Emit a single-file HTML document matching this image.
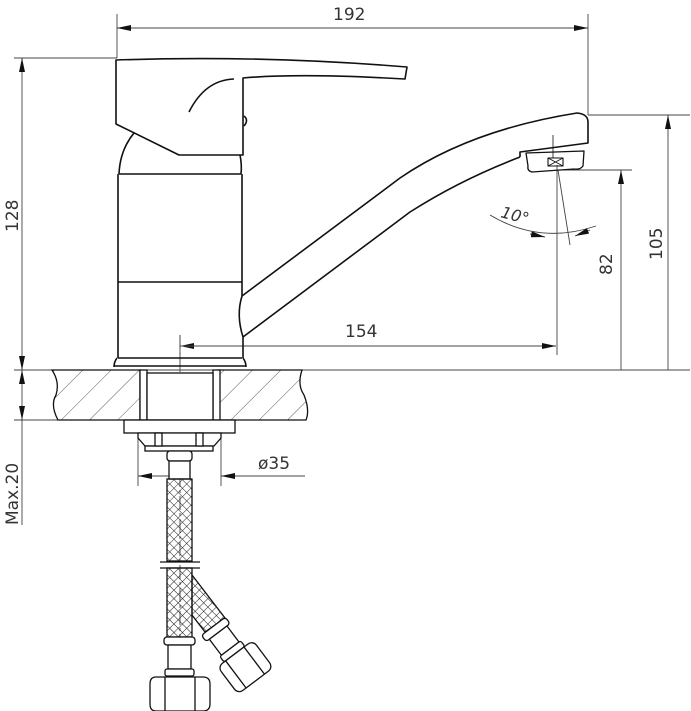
<!DOCTYPE html>
<html><head><meta charset="utf-8"><style>
html,body{margin:0;padding:0;background:#fff;}
svg{display:block;}
text{font-family:"DejaVu Sans","Liberation Sans",sans-serif;fill:#333;}
</style></head><body>
<svg width="691" height="711" viewBox="0 0 691 711" xmlns="http://www.w3.org/2000/svg">
<defs>
<pattern id="hatch" width="20" height="20" patternUnits="userSpaceOnUse" patternTransform="rotate(45)">
<line x1="0" y1="0" x2="0" y2="20" stroke="#333" stroke-width="0.8"/>
</pattern>
<pattern id="mesh" width="6" height="6" patternUnits="userSpaceOnUse" patternTransform="rotate(45)">
<path d="M0 0H6M0 0V6" stroke="#111" stroke-width="0.9" fill="none"/>
</pattern>
<marker id="ar" markerWidth="14" markerHeight="6" refX="14" refY="3" orient="auto" markerUnits="userSpaceOnUse">
<path d="M0 0L14 3L0 6Z" fill="#111"/>
</marker>
</defs>
<g stroke="#444" stroke-width="0.9" fill="none">
<!-- top 192 -->
<line x1="117" y1="14" x2="117" y2="58"/>
<line x1="588" y1="14" x2="588" y2="115"/>
<line x1="350" y1="28" x2="117" y2="28" marker-end="url(#ar)"/>
<line x1="350" y1="28" x2="588" y2="28" marker-end="url(#ar)"/>
<!-- left 128 -->
<line x1="14" y1="58" x2="117" y2="58"/>
<line x1="22" y1="214" x2="22" y2="370" marker-end="url(#ar)"/>
<line x1="22" y1="214" x2="22" y2="58" marker-end="url(#ar)"/>
<line x1="14" y1="370" x2="690" y2="370"/>
<line x1="14" y1="420" x2="60" y2="420"/>
<line x1="22" y1="420" x2="22" y2="525"/>
<line x1="22" y1="395" x2="22" y2="370" marker-end="url(#ar)"/>
<line x1="22" y1="395" x2="22" y2="420" marker-end="url(#ar)"/>
<!-- right dims -->
<line x1="588" y1="115" x2="690" y2="115"/>
<line x1="668" y1="370" x2="668" y2="115" marker-end="url(#ar)"/>
<line x1="560" y1="170" x2="632" y2="170"/>
<line x1="621" y1="370" x2="621" y2="170" marker-end="url(#ar)"/>
<line x1="557" y1="165" x2="557" y2="355"/>
<line x1="558" y1="170" x2="570" y2="245"/>
<path d="M490 215 Q540 245 596 226"/>
<path d="M530 234 L545 237" marker-end="url(#ar)"/>
<path d="M590 230 L575 236" marker-end="url(#ar)"/>
<!-- 154 -->
<line x1="180" y1="335" x2="180" y2="360"/>
<line x1="556" y1="346" x2="180" y2="346" marker-end="url(#ar)"/>
<line x1="180" y1="346" x2="556" y2="346" marker-end="url(#ar)"/>
<!-- o35 -->
<line x1="138" y1="432" x2="138" y2="486"/>
<line x1="221" y1="432" x2="221" y2="486"/>
<line x1="180" y1="476" x2="138" y2="476" marker-end="url(#ar)"/>
<line x1="305" y1="476" x2="221" y2="476" marker-end="url(#ar)"/>
<!-- centerline -->
<line x1="180" y1="335" x2="180" y2="711" stroke-dasharray="14 3 3 3"/>
</g>
<g fill="#333">
<text x="333" y="20" font-size="17">192</text>
<text x="345" y="337" font-size="17">154</text>
<text x="258" y="469" font-size="17">ø35</text>
<text font-size="17" transform="translate(18,232) rotate(-90)">128</text>
<text font-size="17" transform="translate(18,525) rotate(-90)">Max.20</text>
<text font-size="17" transform="translate(662,260) rotate(-90)">105</text>
<text font-size="17" transform="translate(612,275) rotate(-90)">82</text>
<text x="500" y="217" font-size="16" font-style="italic" transform="rotate(15 500 217)">10°</text>
</g>
<g stroke="#111" stroke-width="1.6" fill="none" stroke-linejoin="round">
<path d="M116 60 Q260 55 407 67 L405 79 Q300 73 243 78 L243 155 L179 155 L116 124 Z"/>
<path d="M189 112 Q205 80 234 79"/>
<path d="M244 116 Q249 120 244 126"/>
<path d="M134 133 Q120 150 119 174"/>
<path d="M240 155 Q242 165 241 174"/>
<line x1="119" y1="174" x2="241" y2="174"/>
<path d="M118 174 L118 358 M242 174 L242 296"/>
<line x1="118" y1="282" x2="242" y2="282"/>
<path d="M242 296 Q236 315 243 337 L243 358"/>
<path d="M118 358 L242 358 M117 358 Q114 362 114 367 M243 358 Q246 362 246 367 M114 366 L246 366"/>
<path d="M242 296 L400 178 Q470 130 577 113 Q588 114 588 122 L588 143 L520 152 L520 157"/>
<path d="M243 337 L410 212 Q460 180 520 157"/>
<path d="M526 153 L584 151 L583 166 Q580 170 574 169 L532 172 Q527 171 528 166 Z" stroke-width="1.3"/>
<rect x="548" y="158" width="15" height="8" stroke-width="1.1"/>
<path d="M548 158 L563 166 M563 158 L548 166" stroke-width="0.8"/>
<line x1="553" y1="135" x2="553" y2="158" stroke-width="0.8"/>
</g>
<g stroke="#111" stroke-width="1.3">
<path d="M52 370 L140 370 L140 420 L58 420 Q50 405 56 395 Q60 382 52 370 Z" fill="url(#hatch)"/>
<path d="M218 370 L302 370 Q297 385 304 395 Q310 410 306 420 L218 420 Z" fill="url(#hatch)"/>
<g fill="#fff">
<rect x="140" y="370" width="7" height="50"/>
<rect x="213" y="370" width="7" height="50"/>
<rect x="147" y="373" width="66" height="47"/>
<rect x="124" y="420" width="111" height="13"/>
<path d="M138 433 L221 433 L221 438 L214 446 L145 446 L138 438 Z"/>
<rect x="145" y="446" width="68" height="5"/>
<rect x="155" y="433" width="7" height="13"/>
<rect x="196" y="433" width="7" height="13"/>
<rect x="167" y="451" width="25" height="10" rx="3"/>
<rect x="169" y="461" width="21" height="18"/>
</g>
</g>
<g stroke="#111" stroke-width="1.3">
<rect x="167" y="479" width="25" height="82" fill="url(#mesh)"/>
<line x1="160" y1="562" x2="200" y2="562"/>
<line x1="160" y1="568" x2="200" y2="568"/>
<path d="M192 575 L225 618 L205 632 L192 615 Z" fill="url(#mesh)"/>
<rect x="167" y="568" width="25" height="69" fill="url(#mesh)"/>
<g fill="#fff">
<rect x="164" y="637" width="31" height="8" rx="3"/>
<rect x="168" y="645" width="23" height="24"/>
<rect x="165" y="669" width="29" height="7" rx="2"/>
<path d="M156 677 L203 677 Q210 677 210 684 L210 704 Q210 711 203 711 L156 711 Q150 711 150 704 L150 684 Q150 677 156 677 Z"/>
<line x1="165" y1="677" x2="165" y2="711"/>
<line x1="195" y1="677" x2="195" y2="711"/>
<g transform="translate(235 650) rotate(-37)">
<rect x="-18" y="-32" width="30" height="8" rx="3"/>
<rect x="-14" y="-24" width="22" height="20"/>
<rect x="-16" y="-4" width="26" height="7" rx="2"/>
<rect x="-24" y="3" width="44" height="34" rx="6"/>
<line x1="-14" y1="3" x2="-14" y2="37"/>
<line x1="9" y1="3" x2="9" y2="37"/>
</g>
</g>
</g>
</svg>
</body></html>
